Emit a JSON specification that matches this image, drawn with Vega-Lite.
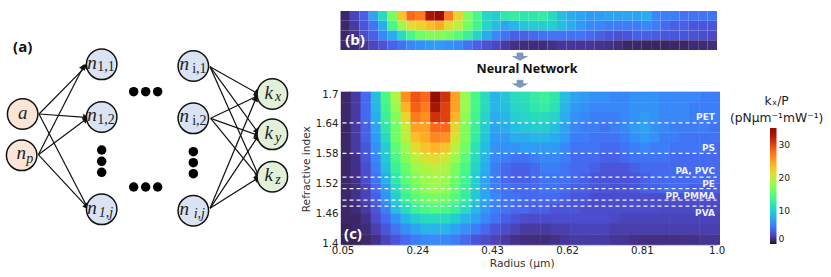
{"$schema":"https://vega.github.io/schema/vega-lite/v6.json","width":831,"height":277,"padding":0,"autosize":{"type":"none"},"background":"white","config":{"view":{"stroke":null},"axis":{"grid":false}},"resolve":{"scale":{"x":"independent","y":"independent"}},"layer":[
{"data":{"values":[
{"r":0.059,"n":1.694,"k":1},{"r":0.084,"n":1.694,"k":2},{"r":0.109,"n":1.694,"k":4.5},{"r":0.135,"n":1.694,"k":9},{"r":0.16,"n":1.694,"k":14},{"r":0.185,"n":1.694,"k":19},{"r":0.211,"n":1.694,"k":26},{"r":0.236,"n":1.694,"k":29},{"r":0.261,"n":1.694,"k":28},{"r":0.286,"n":1.694,"k":34.5},{"r":0.312,"n":1.694,"k":31},{"r":0.337,"n":1.694,"k":25},{"r":0.362,"n":1.694,"k":18},{"r":0.388,"n":1.694,"k":14},{"r":0.413,"n":1.694,"k":11},{"r":0.438,"n":1.694,"k":8.5},{"r":0.464,"n":1.694,"k":9.5},{"r":0.489,"n":1.694,"k":11},{"r":0.514,"n":1.694,"k":11.5},{"r":0.539,"n":1.694,"k":12.5},{"r":0.565,"n":1.694,"k":13},{"r":0.59,"n":1.694,"k":12},{"r":0.615,"n":1.694,"k":9},{"r":0.641,"n":1.694,"k":7.5},{"r":0.666,"n":1.694,"k":7},{"r":0.691,"n":1.694,"k":6.5},{"r":0.717,"n":1.694,"k":6.5},{"r":0.742,"n":1.694,"k":6},{"r":0.767,"n":1.694,"k":6},{"r":0.792,"n":1.694,"k":6.5},{"r":0.818,"n":1.694,"k":6.5},{"r":0.843,"n":1.694,"k":6.5},{"r":0.868,"n":1.694,"k":6},{"r":0.894,"n":1.694,"k":6},{"r":0.919,"n":1.694,"k":6},{"r":0.944,"n":1.694,"k":6},{"r":0.97,"n":1.694,"k":5.5},{"r":0.995,"n":1.694,"k":5.5},
{"r":0.059,"n":1.673,"k":1},{"r":0.084,"n":1.673,"k":2},{"r":0.109,"n":1.673,"k":4.5},{"r":0.135,"n":1.673,"k":8.5},{"r":0.16,"n":1.673,"k":13.5},{"r":0.185,"n":1.673,"k":18},{"r":0.211,"n":1.673,"k":24},{"r":0.236,"n":1.673,"k":28.5},{"r":0.261,"n":1.673,"k":27},{"r":0.286,"n":1.673,"k":33},{"r":0.312,"n":1.673,"k":30},{"r":0.337,"n":1.673,"k":25},{"r":0.362,"n":1.673,"k":18},{"r":0.388,"n":1.673,"k":14},{"r":0.413,"n":1.673,"k":11},{"r":0.438,"n":1.673,"k":8.5},{"r":0.464,"n":1.673,"k":9},{"r":0.489,"n":1.673,"k":10.5},{"r":0.514,"n":1.673,"k":11},{"r":0.539,"n":1.673,"k":12},{"r":0.565,"n":1.673,"k":12.5},{"r":0.59,"n":1.673,"k":11.5},{"r":0.615,"n":1.673,"k":8.5},{"r":0.641,"n":1.673,"k":7},{"r":0.666,"n":1.673,"k":6.5},{"r":0.691,"n":1.673,"k":6},{"r":0.717,"n":1.673,"k":6},{"r":0.742,"n":1.673,"k":6},{"r":0.767,"n":1.673,"k":6},{"r":0.792,"n":1.673,"k":6.5},{"r":0.818,"n":1.673,"k":6.5},{"r":0.843,"n":1.673,"k":6.5},{"r":0.868,"n":1.673,"k":6},{"r":0.894,"n":1.673,"k":6},{"r":0.919,"n":1.673,"k":6},{"r":0.944,"n":1.673,"k":5.5},{"r":0.97,"n":1.673,"k":5.5},{"r":0.995,"n":1.673,"k":5.5},
{"r":0.059,"n":1.653,"k":1},{"r":0.084,"n":1.653,"k":2},{"r":0.109,"n":1.653,"k":4.5},{"r":0.135,"n":1.653,"k":8},{"r":0.16,"n":1.653,"k":13},{"r":0.185,"n":1.653,"k":17},{"r":0.211,"n":1.653,"k":22},{"r":0.236,"n":1.653,"k":27},{"r":0.261,"n":1.653,"k":26},{"r":0.286,"n":1.653,"k":31},{"r":0.312,"n":1.653,"k":30},{"r":0.337,"n":1.653,"k":24},{"r":0.362,"n":1.653,"k":17.5},{"r":0.388,"n":1.653,"k":13.5},{"r":0.413,"n":1.653,"k":10.5},{"r":0.438,"n":1.653,"k":8},{"r":0.464,"n":1.653,"k":8.5},{"r":0.489,"n":1.653,"k":10},{"r":0.514,"n":1.653,"k":10.5},{"r":0.539,"n":1.653,"k":11},{"r":0.565,"n":1.653,"k":11},{"r":0.59,"n":1.653,"k":10.5},{"r":0.615,"n":1.653,"k":8},{"r":0.641,"n":1.653,"k":6.5},{"r":0.666,"n":1.653,"k":6},{"r":0.691,"n":1.653,"k":5.5},{"r":0.717,"n":1.653,"k":5.5},{"r":0.742,"n":1.653,"k":5.5},{"r":0.767,"n":1.653,"k":6},{"r":0.792,"n":1.653,"k":6.5},{"r":0.818,"n":1.653,"k":7},{"r":0.843,"n":1.653,"k":6.5},{"r":0.868,"n":1.653,"k":6},{"r":0.894,"n":1.653,"k":6},{"r":0.919,"n":1.653,"k":6},{"r":0.944,"n":1.653,"k":5.5},{"r":0.97,"n":1.653,"k":5.5},{"r":0.995,"n":1.653,"k":5.5},
{"r":0.059,"n":1.633,"k":1},{"r":0.084,"n":1.633,"k":2},{"r":0.109,"n":1.633,"k":4},{"r":0.135,"n":1.633,"k":7.5},{"r":0.16,"n":1.633,"k":12},{"r":0.185,"n":1.633,"k":16},{"r":0.211,"n":1.633,"k":20},{"r":0.236,"n":1.633,"k":25},{"r":0.261,"n":1.633,"k":25},{"r":0.286,"n":1.633,"k":28},{"r":0.312,"n":1.633,"k":28},{"r":0.337,"n":1.633,"k":22},{"r":0.362,"n":1.633,"k":17},{"r":0.388,"n":1.633,"k":13},{"r":0.413,"n":1.633,"k":10},{"r":0.438,"n":1.633,"k":7.5},{"r":0.464,"n":1.633,"k":8},{"r":0.489,"n":1.633,"k":9},{"r":0.514,"n":1.633,"k":9.5},{"r":0.539,"n":1.633,"k":10},{"r":0.565,"n":1.633,"k":10},{"r":0.59,"n":1.633,"k":9},{"r":0.615,"n":1.633,"k":7.5},{"r":0.641,"n":1.633,"k":6},{"r":0.666,"n":1.633,"k":5.5},{"r":0.691,"n":1.633,"k":5.5},{"r":0.717,"n":1.633,"k":5},{"r":0.742,"n":1.633,"k":5.5},{"r":0.767,"n":1.633,"k":6},{"r":0.792,"n":1.633,"k":7},{"r":0.818,"n":1.633,"k":7.5},{"r":0.843,"n":1.633,"k":6.5},{"r":0.868,"n":1.633,"k":6},{"r":0.894,"n":1.633,"k":5.5},{"r":0.919,"n":1.633,"k":5.5},{"r":0.944,"n":1.633,"k":5.5},{"r":0.97,"n":1.633,"k":5.5},{"r":0.995,"n":1.633,"k":5},
{"r":0.059,"n":1.612,"k":1},{"r":0.084,"n":1.612,"k":2},{"r":0.109,"n":1.612,"k":4},{"r":0.135,"n":1.612,"k":7},{"r":0.16,"n":1.612,"k":11},{"r":0.185,"n":1.612,"k":16},{"r":0.211,"n":1.612,"k":19.5},{"r":0.236,"n":1.612,"k":23.5},{"r":0.261,"n":1.612,"k":24.5},{"r":0.286,"n":1.612,"k":26.5},{"r":0.312,"n":1.612,"k":26},{"r":0.337,"n":1.612,"k":21},{"r":0.362,"n":1.612,"k":17},{"r":0.388,"n":1.612,"k":12.5},{"r":0.413,"n":1.612,"k":9.5},{"r":0.438,"n":1.612,"k":7},{"r":0.464,"n":1.612,"k":7},{"r":0.489,"n":1.612,"k":8},{"r":0.514,"n":1.612,"k":8},{"r":0.539,"n":1.612,"k":8.5},{"r":0.565,"n":1.612,"k":8.5},{"r":0.59,"n":1.612,"k":8},{"r":0.615,"n":1.612,"k":7},{"r":0.641,"n":1.612,"k":5.5},{"r":0.666,"n":1.612,"k":5.5},{"r":0.691,"n":1.612,"k":5},{"r":0.717,"n":1.612,"k":5},{"r":0.742,"n":1.612,"k":5},{"r":0.767,"n":1.612,"k":5.5},{"r":0.792,"n":1.612,"k":6.5},{"r":0.818,"n":1.612,"k":7},{"r":0.843,"n":1.612,"k":6.5},{"r":0.868,"n":1.612,"k":5.5},{"r":0.894,"n":1.612,"k":5.5},{"r":0.919,"n":1.612,"k":5},{"r":0.944,"n":1.612,"k":5},{"r":0.97,"n":1.612,"k":5},{"r":0.995,"n":1.612,"k":5},
{"r":0.059,"n":1.592,"k":1},{"r":0.084,"n":1.592,"k":2},{"r":0.109,"n":1.592,"k":3.5},{"r":0.135,"n":1.592,"k":6.5},{"r":0.16,"n":1.592,"k":10},{"r":0.185,"n":1.592,"k":15},{"r":0.211,"n":1.592,"k":18},{"r":0.236,"n":1.592,"k":21.5},{"r":0.261,"n":1.592,"k":23},{"r":0.286,"n":1.592,"k":24},{"r":0.312,"n":1.592,"k":23},{"r":0.337,"n":1.592,"k":19.5},{"r":0.362,"n":1.592,"k":16},{"r":0.388,"n":1.592,"k":11.5},{"r":0.413,"n":1.592,"k":9},{"r":0.438,"n":1.592,"k":6.5},{"r":0.464,"n":1.592,"k":6.5},{"r":0.489,"n":1.592,"k":6.5},{"r":0.514,"n":1.592,"k":7},{"r":0.539,"n":1.592,"k":7},{"r":0.565,"n":1.592,"k":7},{"r":0.59,"n":1.592,"k":7},{"r":0.615,"n":1.592,"k":6},{"r":0.641,"n":1.592,"k":5},{"r":0.666,"n":1.592,"k":5},{"r":0.691,"n":1.592,"k":5},{"r":0.717,"n":1.592,"k":4.5},{"r":0.742,"n":1.592,"k":4.5},{"r":0.767,"n":1.592,"k":5},{"r":0.792,"n":1.592,"k":5.5},{"r":0.818,"n":1.592,"k":6},{"r":0.843,"n":1.592,"k":5.5},{"r":0.868,"n":1.592,"k":5.5},{"r":0.894,"n":1.592,"k":5},{"r":0.919,"n":1.592,"k":5},{"r":0.944,"n":1.592,"k":5},{"r":0.97,"n":1.592,"k":5},{"r":0.995,"n":1.592,"k":4.5},
{"r":0.059,"n":1.571,"k":1},{"r":0.084,"n":1.571,"k":1.5},{"r":0.109,"n":1.571,"k":3.5},{"r":0.135,"n":1.571,"k":6},{"r":0.16,"n":1.571,"k":9.5},{"r":0.185,"n":1.571,"k":14},{"r":0.211,"n":1.571,"k":17},{"r":0.236,"n":1.571,"k":19.5},{"r":0.261,"n":1.571,"k":21},{"r":0.286,"n":1.571,"k":21.5},{"r":0.312,"n":1.571,"k":20.5},{"r":0.337,"n":1.571,"k":18},{"r":0.362,"n":1.571,"k":15},{"r":0.388,"n":1.571,"k":11},{"r":0.413,"n":1.571,"k":8.5},{"r":0.438,"n":1.571,"k":6},{"r":0.464,"n":1.571,"k":5.5},{"r":0.489,"n":1.571,"k":5},{"r":0.514,"n":1.571,"k":5},{"r":0.539,"n":1.571,"k":5.5},{"r":0.565,"n":1.571,"k":6},{"r":0.59,"n":1.571,"k":6},{"r":0.615,"n":1.571,"k":5.5},{"r":0.641,"n":1.571,"k":4.5},{"r":0.666,"n":1.571,"k":4.5},{"r":0.691,"n":1.571,"k":4.5},{"r":0.717,"n":1.571,"k":4},{"r":0.742,"n":1.571,"k":4},{"r":0.767,"n":1.571,"k":4.5},{"r":0.792,"n":1.571,"k":5},{"r":0.818,"n":1.571,"k":5},{"r":0.843,"n":1.571,"k":5},{"r":0.868,"n":1.571,"k":5},{"r":0.894,"n":1.571,"k":4.5},{"r":0.919,"n":1.571,"k":4.5},{"r":0.944,"n":1.571,"k":4.5},{"r":0.97,"n":1.571,"k":4.5},{"r":0.995,"n":1.571,"k":4.5},
{"r":0.059,"n":1.551,"k":1},{"r":0.084,"n":1.551,"k":1.5},{"r":0.109,"n":1.551,"k":3},{"r":0.135,"n":1.551,"k":5.5},{"r":0.16,"n":1.551,"k":9},{"r":0.185,"n":1.551,"k":13},{"r":0.211,"n":1.551,"k":15.5},{"r":0.236,"n":1.551,"k":18},{"r":0.261,"n":1.551,"k":19},{"r":0.286,"n":1.551,"k":19.5},{"r":0.312,"n":1.551,"k":19},{"r":0.337,"n":1.551,"k":16.5},{"r":0.362,"n":1.551,"k":14},{"r":0.388,"n":1.551,"k":10.5},{"r":0.413,"n":1.551,"k":8},{"r":0.438,"n":1.551,"k":5.5},{"r":0.464,"n":1.551,"k":4.5},{"r":0.489,"n":1.551,"k":4},{"r":0.514,"n":1.551,"k":4},{"r":0.539,"n":1.551,"k":4.5},{"r":0.565,"n":1.551,"k":5.5},{"r":0.59,"n":1.551,"k":5.5},{"r":0.615,"n":1.551,"k":5},{"r":0.641,"n":1.551,"k":4.5},{"r":0.666,"n":1.551,"k":4.5},{"r":0.691,"n":1.551,"k":4},{"r":0.717,"n":1.551,"k":3.5},{"r":0.742,"n":1.551,"k":3.5},{"r":0.767,"n":1.551,"k":3.5},{"r":0.792,"n":1.551,"k":4},{"r":0.818,"n":1.551,"k":4.5},{"r":0.843,"n":1.551,"k":4.5},{"r":0.868,"n":1.551,"k":4.5},{"r":0.894,"n":1.551,"k":4.5},{"r":0.919,"n":1.551,"k":4.5},{"r":0.944,"n":1.551,"k":4.5},{"r":0.97,"n":1.551,"k":4.5},{"r":0.995,"n":1.551,"k":4.5},
{"r":0.059,"n":1.531,"k":1},{"r":0.084,"n":1.531,"k":1.5},{"r":0.109,"n":1.531,"k":3},{"r":0.135,"n":1.531,"k":5},{"r":0.16,"n":1.531,"k":8},{"r":0.185,"n":1.531,"k":12},{"r":0.211,"n":1.531,"k":15},{"r":0.236,"n":1.531,"k":17},{"r":0.261,"n":1.531,"k":18},{"r":0.286,"n":1.531,"k":18.5},{"r":0.312,"n":1.531,"k":18},{"r":0.337,"n":1.531,"k":16},{"r":0.362,"n":1.531,"k":13.5},{"r":0.388,"n":1.531,"k":10},{"r":0.413,"n":1.531,"k":7.5},{"r":0.438,"n":1.531,"k":5.5},{"r":0.464,"n":1.531,"k":4.5},{"r":0.489,"n":1.531,"k":4},{"r":0.514,"n":1.531,"k":4},{"r":0.539,"n":1.531,"k":4.5},{"r":0.565,"n":1.531,"k":5},{"r":0.59,"n":1.531,"k":5},{"r":0.615,"n":1.531,"k":5},{"r":0.641,"n":1.531,"k":4.5},{"r":0.666,"n":1.531,"k":4},{"r":0.691,"n":1.531,"k":3.5},{"r":0.717,"n":1.531,"k":3.3},{"r":0.742,"n":1.531,"k":3.3},{"r":0.767,"n":1.531,"k":3.3},{"r":0.792,"n":1.531,"k":3.5},{"r":0.818,"n":1.531,"k":4},{"r":0.843,"n":1.531,"k":4.5},{"r":0.868,"n":1.531,"k":4.5},{"r":0.894,"n":1.531,"k":4.5},{"r":0.919,"n":1.531,"k":4.5},{"r":0.944,"n":1.531,"k":4.5},{"r":0.97,"n":1.531,"k":4.5},{"r":0.995,"n":1.531,"k":4.5},
{"r":0.059,"n":1.51,"k":1},{"r":0.084,"n":1.51,"k":1.5},{"r":0.109,"n":1.51,"k":2.5},{"r":0.135,"n":1.51,"k":4.5},{"r":0.16,"n":1.51,"k":7},{"r":0.185,"n":1.51,"k":11},{"r":0.211,"n":1.51,"k":14},{"r":0.236,"n":1.51,"k":16},{"r":0.261,"n":1.51,"k":17.5},{"r":0.286,"n":1.51,"k":18},{"r":0.312,"n":1.51,"k":17.5},{"r":0.337,"n":1.51,"k":15.5},{"r":0.362,"n":1.51,"k":13},{"r":0.388,"n":1.51,"k":10},{"r":0.413,"n":1.51,"k":7.5},{"r":0.438,"n":1.51,"k":5.5},{"r":0.464,"n":1.51,"k":5},{"r":0.489,"n":1.51,"k":4.5},{"r":0.514,"n":1.51,"k":4.5},{"r":0.539,"n":1.51,"k":4.5},{"r":0.565,"n":1.51,"k":5},{"r":0.59,"n":1.51,"k":5},{"r":0.615,"n":1.51,"k":4.5},{"r":0.641,"n":1.51,"k":4},{"r":0.666,"n":1.51,"k":4},{"r":0.691,"n":1.51,"k":3.5},{"r":0.717,"n":1.51,"k":3.5},{"r":0.742,"n":1.51,"k":3.3},{"r":0.767,"n":1.51,"k":3.3},{"r":0.792,"n":1.51,"k":3.5},{"r":0.818,"n":1.51,"k":4},{"r":0.843,"n":1.51,"k":4},{"r":0.868,"n":1.51,"k":4.5},{"r":0.894,"n":1.51,"k":4.5},{"r":0.919,"n":1.51,"k":4.5},{"r":0.944,"n":1.51,"k":4},{"r":0.97,"n":1.51,"k":4},{"r":0.995,"n":1.51,"k":4},
{"r":0.059,"n":1.49,"k":1},{"r":0.084,"n":1.49,"k":1.5},{"r":0.109,"n":1.49,"k":2.5},{"r":0.135,"n":1.49,"k":4},{"r":0.16,"n":1.49,"k":6.5},{"r":0.185,"n":1.49,"k":10},{"r":0.211,"n":1.49,"k":13},{"r":0.236,"n":1.49,"k":15},{"r":0.261,"n":1.49,"k":16},{"r":0.286,"n":1.49,"k":16.5},{"r":0.312,"n":1.49,"k":16},{"r":0.337,"n":1.49,"k":14.5},{"r":0.362,"n":1.49,"k":12.5},{"r":0.388,"n":1.49,"k":9.5},{"r":0.413,"n":1.49,"k":7.5},{"r":0.438,"n":1.49,"k":6},{"r":0.464,"n":1.49,"k":5},{"r":0.489,"n":1.49,"k":5},{"r":0.514,"n":1.49,"k":4.5},{"r":0.539,"n":1.49,"k":4.5},{"r":0.565,"n":1.49,"k":4.5},{"r":0.59,"n":1.49,"k":4.5},{"r":0.615,"n":1.49,"k":4},{"r":0.641,"n":1.49,"k":3.5},{"r":0.666,"n":1.49,"k":3.5},{"r":0.691,"n":1.49,"k":3},{"r":0.717,"n":1.49,"k":3},{"r":0.742,"n":1.49,"k":3},{"r":0.767,"n":1.49,"k":3},{"r":0.792,"n":1.49,"k":3},{"r":0.818,"n":1.49,"k":3},{"r":0.843,"n":1.49,"k":3},{"r":0.868,"n":1.49,"k":3},{"r":0.894,"n":1.49,"k":3},{"r":0.919,"n":1.49,"k":3},{"r":0.944,"n":1.49,"k":3},{"r":0.97,"n":1.49,"k":3},{"r":0.995,"n":1.49,"k":3},
{"r":0.059,"n":1.469,"k":1},{"r":0.084,"n":1.469,"k":1.2},{"r":0.109,"n":1.469,"k":2},{"r":0.135,"n":1.469,"k":3.5},{"r":0.16,"n":1.469,"k":5.5},{"r":0.185,"n":1.469,"k":9},{"r":0.211,"n":1.469,"k":11},{"r":0.236,"n":1.469,"k":13},{"r":0.261,"n":1.469,"k":14},{"r":0.286,"n":1.469,"k":14.5},{"r":0.312,"n":1.469,"k":14},{"r":0.337,"n":1.469,"k":13},{"r":0.362,"n":1.469,"k":11},{"r":0.388,"n":1.469,"k":8.5},{"r":0.413,"n":1.469,"k":7},{"r":0.438,"n":1.469,"k":5.5},{"r":0.464,"n":1.469,"k":5},{"r":0.489,"n":1.469,"k":4.5},{"r":0.514,"n":1.469,"k":4.5},{"r":0.539,"n":1.469,"k":4},{"r":0.565,"n":1.469,"k":4},{"r":0.59,"n":1.469,"k":3.5},{"r":0.615,"n":1.469,"k":3.5},{"r":0.641,"n":1.469,"k":3.5},{"r":0.666,"n":1.469,"k":3},{"r":0.691,"n":1.469,"k":3},{"r":0.717,"n":1.469,"k":3},{"r":0.742,"n":1.469,"k":3},{"r":0.767,"n":1.469,"k":3},{"r":0.792,"n":1.469,"k":3},{"r":0.818,"n":1.469,"k":3},{"r":0.843,"n":1.469,"k":3},{"r":0.868,"n":1.469,"k":2.8},{"r":0.894,"n":1.469,"k":2.8},{"r":0.919,"n":1.469,"k":2.8},{"r":0.944,"n":1.469,"k":2.8},{"r":0.97,"n":1.469,"k":2.8},{"r":0.995,"n":1.469,"k":2.8},
{"r":0.059,"n":1.449,"k":1},{"r":0.084,"n":1.449,"k":1},{"r":0.109,"n":1.449,"k":1.5},{"r":0.135,"n":1.449,"k":3},{"r":0.16,"n":1.449,"k":4.5},{"r":0.185,"n":1.449,"k":6.5},{"r":0.211,"n":1.449,"k":8.5},{"r":0.236,"n":1.449,"k":10},{"r":0.261,"n":1.449,"k":11},{"r":0.286,"n":1.449,"k":11},{"r":0.312,"n":1.449,"k":11},{"r":0.337,"n":1.449,"k":10},{"r":0.362,"n":1.449,"k":8.5},{"r":0.388,"n":1.449,"k":7.5},{"r":0.413,"n":1.449,"k":6},{"r":0.438,"n":1.449,"k":5},{"r":0.464,"n":1.449,"k":4},{"r":0.489,"n":1.449,"k":3.5},{"r":0.514,"n":1.449,"k":3},{"r":0.539,"n":1.449,"k":3},{"r":0.565,"n":1.449,"k":3},{"r":0.59,"n":1.449,"k":3},{"r":0.615,"n":1.449,"k":3},{"r":0.641,"n":1.449,"k":3},{"r":0.666,"n":1.449,"k":3},{"r":0.691,"n":1.449,"k":3},{"r":0.717,"n":1.449,"k":3},{"r":0.742,"n":1.449,"k":2.8},{"r":0.767,"n":1.449,"k":2.5},{"r":0.792,"n":1.449,"k":2.5},{"r":0.818,"n":1.449,"k":2.5},{"r":0.843,"n":1.449,"k":2.5},{"r":0.868,"n":1.449,"k":2.5},{"r":0.894,"n":1.449,"k":2.5},{"r":0.919,"n":1.449,"k":2.5},{"r":0.944,"n":1.449,"k":2.5},{"r":0.97,"n":1.449,"k":2.5},{"r":0.995,"n":1.449,"k":2.5},
{"r":0.059,"n":1.429,"k":0.8},{"r":0.084,"n":1.429,"k":1},{"r":0.109,"n":1.429,"k":1.2},{"r":0.135,"n":1.429,"k":2.2},{"r":0.16,"n":1.429,"k":3.5},{"r":0.185,"n":1.429,"k":5},{"r":0.211,"n":1.429,"k":6.5},{"r":0.236,"n":1.429,"k":7.5},{"r":0.261,"n":1.429,"k":8.5},{"r":0.286,"n":1.429,"k":8.5},{"r":0.312,"n":1.429,"k":8.5},{"r":0.337,"n":1.429,"k":7.5},{"r":0.362,"n":1.429,"k":6.5},{"r":0.388,"n":1.429,"k":5.5},{"r":0.413,"n":1.429,"k":4.5},{"r":0.438,"n":1.429,"k":3.5},{"r":0.464,"n":1.429,"k":3},{"r":0.489,"n":1.429,"k":2.5},{"r":0.514,"n":1.429,"k":2},{"r":0.539,"n":1.429,"k":2},{"r":0.565,"n":1.429,"k":2},{"r":0.59,"n":1.429,"k":2.2},{"r":0.615,"n":1.429,"k":2.2},{"r":0.641,"n":1.429,"k":2.5},{"r":0.666,"n":1.429,"k":2.5},{"r":0.691,"n":1.429,"k":2.5},{"r":0.717,"n":1.429,"k":2.5},{"r":0.742,"n":1.429,"k":2.2},{"r":0.767,"n":1.429,"k":2.2},{"r":0.792,"n":1.429,"k":2.2},{"r":0.818,"n":1.429,"k":2.2},{"r":0.843,"n":1.429,"k":2.2},{"r":0.868,"n":1.429,"k":2.2},{"r":0.894,"n":1.429,"k":2.2},{"r":0.919,"n":1.429,"k":2.2},{"r":0.944,"n":1.429,"k":2.2},{"r":0.97,"n":1.429,"k":2.2},{"r":0.995,"n":1.429,"k":2.2},
{"r":0.059,"n":1.408,"k":0.8},{"r":0.084,"n":1.408,"k":0.8},{"r":0.109,"n":1.408,"k":1},{"r":0.135,"n":1.408,"k":1.5},{"r":0.16,"n":1.408,"k":2.5},{"r":0.185,"n":1.408,"k":3.5},{"r":0.211,"n":1.408,"k":4.5},{"r":0.236,"n":1.408,"k":5.5},{"r":0.261,"n":1.408,"k":6},{"r":0.286,"n":1.408,"k":6.2},{"r":0.312,"n":1.408,"k":6},{"r":0.337,"n":1.408,"k":5.5},{"r":0.362,"n":1.408,"k":4.5},{"r":0.388,"n":1.408,"k":3.5},{"r":0.413,"n":1.408,"k":3},{"r":0.438,"n":1.408,"k":2.5},{"r":0.464,"n":1.408,"k":2},{"r":0.489,"n":1.408,"k":1.5},{"r":0.514,"n":1.408,"k":1.3},{"r":0.539,"n":1.408,"k":1.3},{"r":0.565,"n":1.408,"k":1.3},{"r":0.59,"n":1.408,"k":1.5},{"r":0.615,"n":1.408,"k":1.8},{"r":0.641,"n":1.408,"k":2},{"r":0.666,"n":1.408,"k":2},{"r":0.691,"n":1.408,"k":2},{"r":0.717,"n":1.408,"k":2},{"r":0.742,"n":1.408,"k":1.8},{"r":0.767,"n":1.408,"k":1.7},{"r":0.792,"n":1.408,"k":1.5},{"r":0.818,"n":1.408,"k":1.4},{"r":0.843,"n":1.408,"k":1.4},{"r":0.868,"n":1.408,"k":1.4},{"r":0.894,"n":1.408,"k":1.4},{"r":0.919,"n":1.408,"k":1.5},{"r":0.944,"n":1.408,"k":1.5},{"r":0.97,"n":1.408,"k":1.7},{"r":0.995,"n":1.408,"k":1.7}
]},"mark":{"type":"rect","width":10.5,"height":10.7},"encoding":{"x":{"field":"r","type":"quantitative","title":"Radius (µm)","scale":{"domain":[0.05,1],"range":[342.5,716.7]},"axis":{"orient":"bottom","offset":-32.5,"values":[0.05,0.24,0.43,0.62,0.81,1],"labelExpr":"datum.value==1?'1.0':format(datum.value,'.2f')","labelOverlap":false,"labelFlush":false,"grid":false,"tickSize":0,"labelPadding":1,"labelFont":"DejaVu Sans","labelFontSize":10.2,"labelColor":"#222222","domainColor":"#999999","titleFont":"DejaVu Sans","titleFontSize":10.7,"titleFontWeight":"normal","titleColor":"#333333","titleX":521.7,"titlePadding":3}},"y":{"field":"n","type":"quantitative","title":"Refractive index","scale":{"domain":[1.4,1.7],"range":[243.5,94]},"axis":{"orient":"left","offset":-341,"values":[1.4,1.46,1.52,1.58,1.64,1.7],"labelExpr":"format(datum.value,'.2~f')","labelOverlap":false,"labelFlush":false,"grid":false,"tickSize":0,"labelPadding":3,"labelFont":"DejaVu Sans","labelFontSize":10.2,"labelColor":"#222222","domain":false,"titleFont":"DejaVu Sans","titleFontSize":10.6,"titleFontWeight":"normal","titleColor":"#333333","titlePadding":4}},"color":{"field":"k","type":"quantitative","title":null,"scale":{"scheme":"turbo","domain":[0,35]},"legend":{"orient":"none","legendX":770,"legendY":128,"gradientLength":116,"gradientThickness":6.5,"values":[0,10,20,30],"labelFont":"DejaVu Sans","labelFontSize":9.2,"labelColor":"#222222","gradientStrokeWidth":0}}}},
{"data":{"values":[{"n":1.642,"polymer":"PET"},{"n":1.581,"polymer":"PS"},{"n":1.533,"polymer":"PA, PVC"},{"n":1.51,"polymer":"PE"},{"n":1.487,"polymer":"PP, PMMA"},{"n":1.475,"polymer":"PVA"}]},"mark":{"type":"rule","color":"white","strokeWidth":1.2,"strokeDash":[4,3],"opacity":0.95},"encoding":{"x":{"datum":0.05,"type":"quantitative","scale":{"domain":[0.05,1],"range":[342.5,716.7]},"axis":null},"x2":{"datum":1},"y":{"field":"n","type":"quantitative","scale":{"domain":[1.4,1.7],"range":[243.5,94]},"axis":null}}},
{"data":{"values":[{"r":0.9957,"n":1.654,"polymer":"PET"},{"r":0.9957,"n":1.592,"polymer":"PS"},{"r":0.9957,"n":1.5455,"polymer":"PA, PVC"},{"r":0.9957,"n":1.519,"polymer":"PE"},{"r":0.9957,"n":1.495,"polymer":"PP, PMMA"},{"r":0.9957,"n":1.461,"polymer":"PVA"}]},"mark":{"type":"text","align":"right","baseline":"middle","font":"DejaVu Sans","fontWeight":"bold","fontSize":9,"color":"white","opacity":0.9},"encoding":{"x":{"field":"r","type":"quantitative","scale":{"domain":[0.05,1],"range":[342.5,716.7]},"axis":null},"y":{"field":"n","type":"quantitative","scale":{"domain":[1.4,1.7],"range":[243.5,94]},"axis":null},"text":{"field":"polymer"}}},
{"data":{"values":[
{"c":0,"w":0,"k":1},{"c":1,"w":0,"k":2.5},{"c":2,"w":0,"k":4},{"c":3,"w":0,"k":7.5},{"c":4,"w":0,"k":11},{"c":5,"w":0,"k":16.5},{"c":6,"w":0,"k":23},{"c":7,"w":0,"k":28},{"c":8,"w":0,"k":27},{"c":9,"w":0,"k":33},{"c":10,"w":0,"k":34},{"c":11,"w":0,"k":27},{"c":12,"w":0,"k":22},{"c":13,"w":0,"k":17},{"c":14,"w":0,"k":14},{"c":15,"w":0,"k":10.5},{"c":16,"w":0,"k":10},{"c":17,"w":0,"k":12},{"c":18,"w":0,"k":12.5},{"c":19,"w":0,"k":12},{"c":20,"w":0,"k":12},{"c":21,"w":0,"k":12.5},{"c":22,"w":0,"k":11},{"c":23,"w":0,"k":9},{"c":24,"w":0,"k":8},{"c":25,"w":0,"k":7.5},{"c":26,"w":0,"k":7},{"c":27,"w":0,"k":7},{"c":28,"w":0,"k":7.5},{"c":29,"w":0,"k":7.5},{"c":30,"w":0,"k":7.5},{"c":31,"w":0,"k":7.5},{"c":32,"w":0,"k":8},{"c":33,"w":0,"k":6},{"c":34,"w":0,"k":5.5},{"c":35,"w":0,"k":5.5},{"c":36,"w":0,"k":5},{"c":37,"w":0,"k":5},{"c":38,"w":0,"k":5},{"c":39,"w":0,"k":5},
{"c":0,"w":1,"k":1},{"c":1,"w":1,"k":2},{"c":2,"w":1,"k":3.5},{"c":3,"w":1,"k":5},{"c":4,"w":1,"k":8},{"c":5,"w":1,"k":14},{"c":6,"w":1,"k":18},{"c":7,"w":1,"k":21.5},{"c":8,"w":1,"k":22},{"c":9,"w":1,"k":23.5},{"c":10,"w":1,"k":24.5},{"c":11,"w":1,"k":21.5},{"c":12,"w":1,"k":19.5},{"c":13,"w":1,"k":16.5},{"c":14,"w":1,"k":13.5},{"c":15,"w":1,"k":10.5},{"c":16,"w":1,"k":9},{"c":17,"w":1,"k":7.5},{"c":18,"w":1,"k":8.5},{"c":19,"w":1,"k":9.5},{"c":20,"w":1,"k":10},{"c":21,"w":1,"k":10},{"c":22,"w":1,"k":10},{"c":23,"w":1,"k":9},{"c":24,"w":1,"k":8},{"c":25,"w":1,"k":7},{"c":26,"w":1,"k":6},{"c":27,"w":1,"k":6},{"c":28,"w":1,"k":5.5},{"c":29,"w":1,"k":5.5},{"c":30,"w":1,"k":5.5},{"c":31,"w":1,"k":5.5},{"c":32,"w":1,"k":6},{"c":33,"w":1,"k":5.5},{"c":34,"w":1,"k":4.5},{"c":35,"w":1,"k":4},{"c":36,"w":1,"k":4},{"c":37,"w":1,"k":3.5},{"c":38,"w":1,"k":3.5},{"c":39,"w":1,"k":3.5},
{"c":0,"w":2,"k":1},{"c":1,"w":2,"k":1.5},{"c":2,"w":2,"k":3},{"c":3,"w":2,"k":4},{"c":4,"w":2,"k":6},{"c":5,"w":2,"k":8},{"c":6,"w":2,"k":11},{"c":7,"w":2,"k":14},{"c":8,"w":2,"k":16},{"c":9,"w":2,"k":17},{"c":10,"w":2,"k":17},{"c":11,"w":2,"k":16.5},{"c":12,"w":2,"k":15},{"c":13,"w":2,"k":13},{"c":14,"w":2,"k":10.5},{"c":15,"w":2,"k":8},{"c":16,"w":2,"k":6},{"c":17,"w":2,"k":5},{"c":18,"w":2,"k":4},{"c":19,"w":2,"k":4},{"c":20,"w":2,"k":4.5},{"c":21,"w":2,"k":5},{"c":22,"w":2,"k":5},{"c":23,"w":2,"k":5},{"c":24,"w":2,"k":5},{"c":25,"w":2,"k":5},{"c":26,"w":2,"k":4.5},{"c":27,"w":2,"k":4},{"c":28,"w":2,"k":3.5},{"c":29,"w":2,"k":3.2},{"c":30,"w":2,"k":3.5},{"c":31,"w":2,"k":4},{"c":32,"w":2,"k":4},{"c":33,"w":2,"k":3.8},{"c":34,"w":2,"k":3.5},{"c":35,"w":2,"k":3.5},{"c":36,"w":2,"k":3.5},{"c":37,"w":2,"k":3.2},{"c":38,"w":2,"k":3},{"c":39,"w":2,"k":2.8},
{"c":0,"w":3,"k":1},{"c":1,"w":3,"k":1.2},{"c":2,"w":3,"k":1.7},{"c":3,"w":3,"k":2.7},{"c":4,"w":3,"k":3.3},{"c":5,"w":3,"k":4.2},{"c":6,"w":3,"k":5},{"c":7,"w":3,"k":6},{"c":8,"w":3,"k":6.5},{"c":9,"w":3,"k":7},{"c":10,"w":3,"k":7},{"c":11,"w":3,"k":6.5},{"c":12,"w":3,"k":6},{"c":13,"w":3,"k":5},{"c":14,"w":3,"k":4},{"c":15,"w":3,"k":3.2},{"c":16,"w":3,"k":2.7},{"c":17,"w":3,"k":2},{"c":18,"w":3,"k":1.5},{"c":19,"w":3,"k":1.3},{"c":20,"w":3,"k":1.3},{"c":21,"w":3,"k":1.3},{"c":22,"w":3,"k":1.5},{"c":23,"w":3,"k":1.8},{"c":24,"w":3,"k":1.8},{"c":25,"w":3,"k":1.8},{"c":26,"w":3,"k":1.8},{"c":27,"w":3,"k":1.6},{"c":28,"w":3,"k":1.5},{"c":29,"w":3,"k":1.3},{"c":30,"w":3,"k":1},{"c":31,"w":3,"k":1},{"c":32,"w":3,"k":0.9},{"c":33,"w":3,"k":0.9},{"c":34,"w":3,"k":0.9},{"c":35,"w":3,"k":1},{"c":36,"w":3,"k":1},{"c":37,"w":3,"k":1.2},{"c":38,"w":3,"k":1.2},{"c":39,"w":3,"k":1.3}
]},"mark":{"type":"rect"},"encoding":{"x":{"field":"c","type":"ordinal","scale":{"range":[340.5,717],"paddingInner":0,"paddingOuter":0},"axis":null},"y":{"field":"w","type":"ordinal","scale":{"range":[11,50],"paddingInner":0,"paddingOuter":0},"axis":null},"color":{"field":"k","type":"quantitative","scale":{"scheme":"turbo","domain":[0,35]},"legend":null}}},
{"encoding":{"x":{"field":"x","type":"quantitative","scale":{"domain":[0,2493],"range":[0,831]},"axis":null},"y":{"field":"y","type":"quantitative","scale":{"domain":[0,831],"range":[0,277]},"axis":null}},"layer":[
{"data":{"name":"edges","values":[
{"x":117,"y":342,"xe":260,"ye":197,"ang":44.6},{"x":117,"y":342,"xe":258,"ye":352,"ang":94},{"x":117,"y":342,"xe":262,"ye":622,"ang":152.6},{"x":115,"y":464,"xe":250,"ye":200,"ang":27.1},{"x":115,"y":464,"xe":258,"ye":358,"ang":53.5},{"x":115,"y":464,"xe":260,"ye":620,"ang":137.1},{"x":630,"y":200,"xe":772,"ye":280,"ang":119.4},{"x":630,"y":200,"xe":772,"ye":395,"ang":143.9},{"x":630,"y":200,"xe":775,"ye":525,"ang":156},{"x":632,"y":355,"xe":772,"ye":288,"ang":64.4},{"x":632,"y":355,"xe":772,"ye":405,"ang":109.7},{"x":632,"y":355,"xe":775,"ye":530,"ang":140.7},{"x":630,"y":625,"xe":768,"ye":295,"ang":22.7},{"x":630,"y":625,"xe":772,"ye":412,"ang":33.7},{"x":630,"y":625,"xe":772,"ye":535,"ang":57.6}
]},"mark":{"type":"rule","color":"#111111","strokeWidth":1.2},"encoding":{"x2":{"field":"xe"},"y2":{"field":"ye"}}},
{"data":{"name":"edges"},"mark":{"type":"point","shape":"triangle-up","filled":true,"color":"#111111","size":45,"opacity":1},"encoding":{"x":{"field":"xe","type":"quantitative"},"y":{"field":"ye","type":"quantitative"},"angle":{"field":"ang","type":"quantitative","scale":null}}},
{"data":{"values":[
{"id":"a","group":"input","x":68,"y":342},{"id":"np","group":"input","x":65,"y":466},{"id":"n11","group":"hidden","x":305,"y":193},{"id":"n12","group":"hidden","x":305,"y":351},{"id":"n1j","group":"hidden","x":305,"y":628},{"id":"ni1","group":"hidden","x":580,"y":198},{"id":"ni2","group":"hidden","x":580,"y":355},{"id":"nij","group":"hidden","x":580,"y":632},{"id":"kx","group":"output","x":817,"y":282},{"id":"ky","group":"output","x":817,"y":403},{"id":"kz","group":"output","x":817,"y":530}
]},"mark":{"type":"point","shape":"circle","filled":true,"stroke":"#111111","strokeWidth":1.5,"size":930,"opacity":1},"encoding":{"fill":{"field":"group","type":"nominal","scale":{"domain":["input","hidden","output"],"range":["#fbe5d6","#dae3f3","#e2f0d9"]},"legend":null}}},
{"data":{"values":[{"x":401,"y":275},{"x":437,"y":275},{"x":473,"y":275},{"x":401,"y":561},{"x":437,"y":561},{"x":473,"y":561},{"x":305,"y":450},{"x":305,"y":484},{"x":305,"y":517},{"x":580,"y":455},{"x":580,"y":488},{"x":580,"y":521}]},"mark":{"type":"point","shape":"circle","filled":true,"color":"black","size":90,"opacity":1}},
{"data":{"values":[{"t":"a","x":68,"y":340},{"t":"n","x":64,"y":460},{"t":"n","x":276,"y":188},{"t":"n","x":276,"y":346},{"t":"n","x":276,"y":623},{"t":"n","x":553,"y":191},{"t":"n","x":553,"y":348},{"t":"n","x":553,"y":626},{"t":"k","x":806,"y":278},{"t":"k","x":806,"y":400},{"t":"k","x":806,"y":526}]},"mark":{"type":"text","font":"Liberation Serif","fontStyle":"italic","fontSize":19,"color":"#222222","baseline":"middle"},"encoding":{"text":{"field":"t"}}},
{"data":{"values":[{"t":"1,1","x":318,"y":201},{"t":"1,2","x":318,"y":361},{"t":"i,1","x":598,"y":206},{"t":"i,2","x":598,"y":364}]},"mark":{"type":"text","font":"Liberation Serif","fontSize":14,"color":"#222222","baseline":"middle"},"encoding":{"text":{"field":"t"}}},
{"data":{"values":[{"t":"p","x":89,"y":478},{"t":"x","x":834,"y":291},{"t":"y","x":834,"y":414},{"t":"z","x":834,"y":540},{"t":"1,j","x":318,"y":640},{"t":"i,j","x":598,"y":643}]},"mark":{"type":"text","font":"Liberation Serif","fontStyle":"italic","fontSize":14,"color":"#222222","baseline":"middle"},"encoding":{"text":{"field":"t"}}},
{"data":{"values":[{"t":"(a)","x":68,"y":140}]},"mark":{"type":"text","font":"Open Sans","fontWeight":"bold","fontSize":15,"color":"#111111","baseline":"middle"},"encoding":{"text":{"field":"t"}}},
{"data":{"values":[{"t":"Neural Network","x":1581,"y":207}]},"mark":{"type":"text","font":"Open Sans","fontWeight":"bold","fontSize":12.5,"color":"#111111","baseline":"middle"},"encoding":{"text":{"field":"t"}}},
{"data":{"values":[{"t":"(b)","x":1065,"y":120},{"t":"(c)","x":1059,"y":702}]},"mark":{"type":"text","font":"Open Sans","fontWeight":"bold","fontSize":15,"color":"white","baseline":"middle"},"encoding":{"text":{"field":"t"}}},
{"data":{"values":[{"x":1560,"y":170},{"x":1560,"y":252}]},"mark":{"type":"point","shape":"M-.2,-.25L.2,-.25L.2,-.02L.5,-.02L0,.25L-.5,-.02L-.2,-.02Z","filled":true,"fill":"#7f97b8","stroke":"#5f86ad","strokeWidth":0.5,"size":900,"opacity":1}},
{"data":{"values":[{"t":"kₓ/P","x":2330,"y":303},{"t":"(pNμm⁻¹mW⁻¹)","x":2330,"y":355}]},"mark":{"type":"text","font":"DejaVu Sans","fontSize":12.3,"color":"#222222","baseline":"middle"},"encoding":{"text":{"field":"t"}}}
]}
]}
